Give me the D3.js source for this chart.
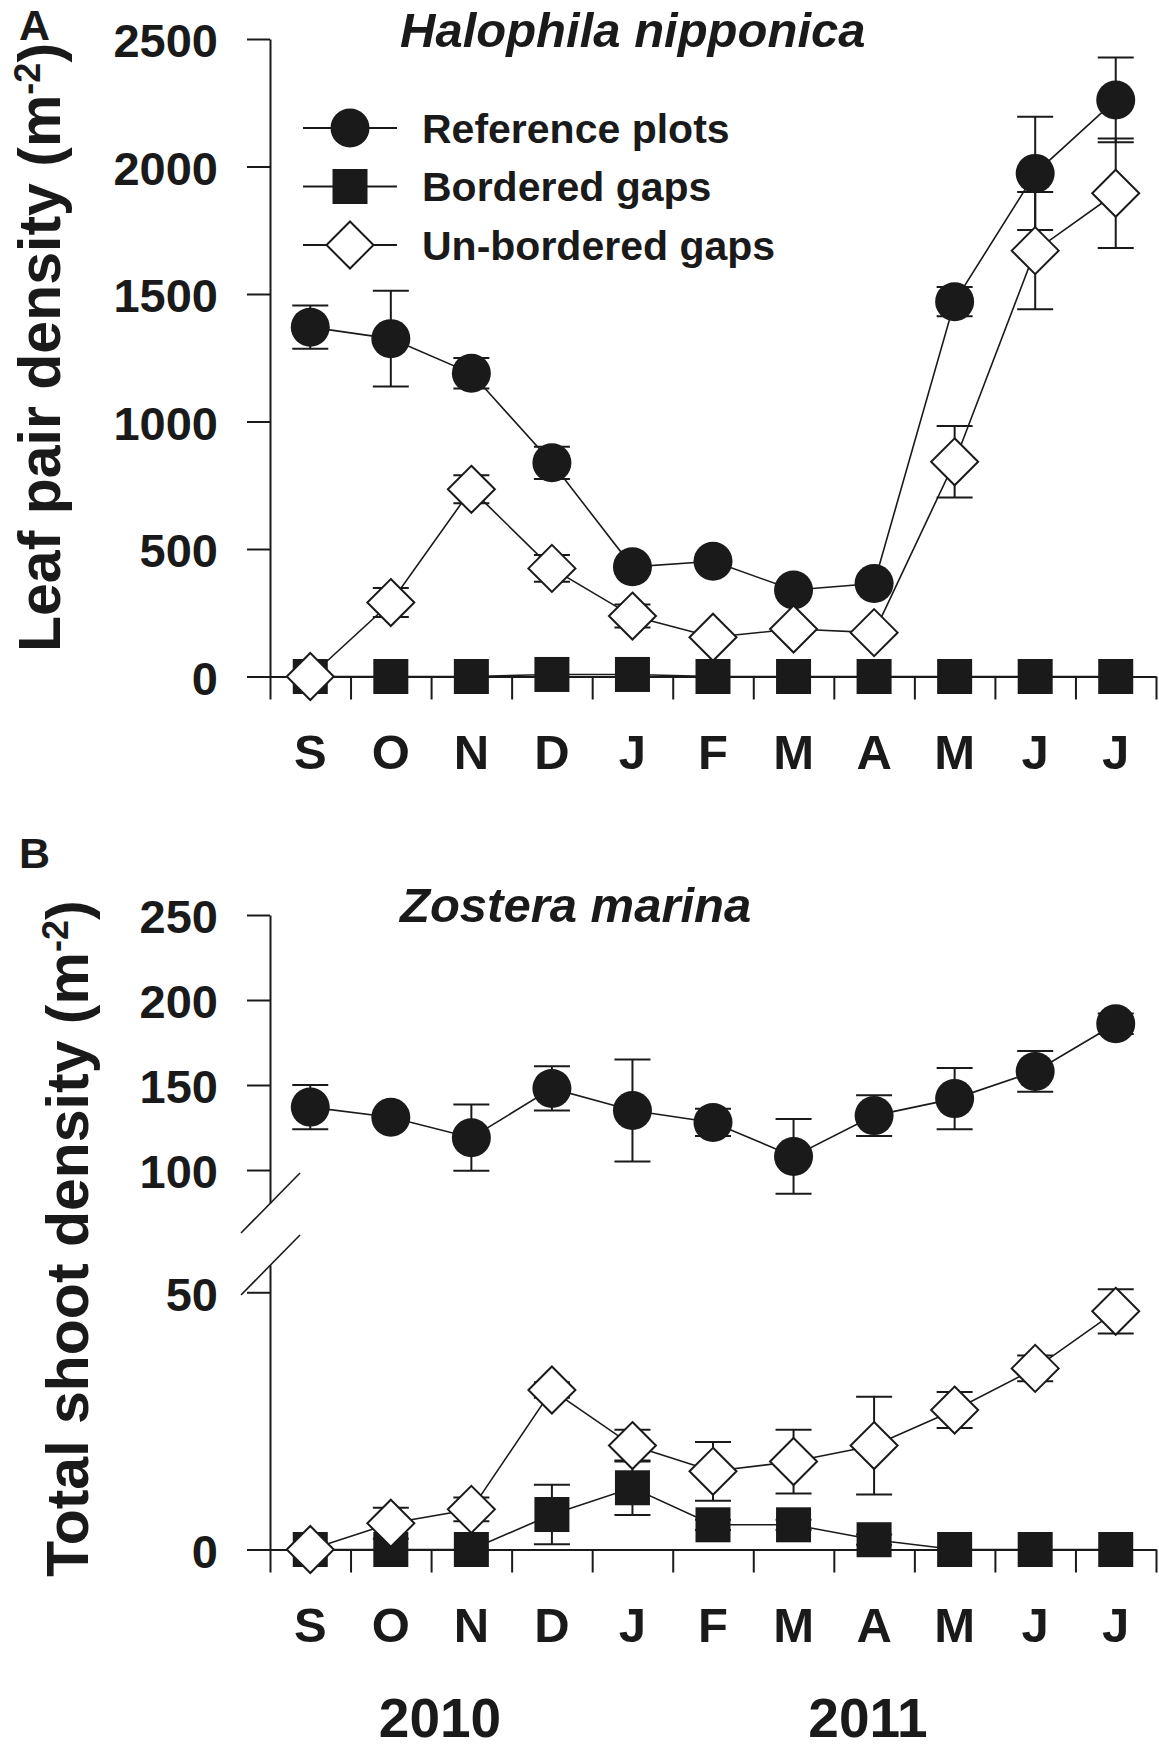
<!DOCTYPE html>
<html lang="en">
<head>
    <meta charset="UTF-8">
    <title>Seagrass density</title>
    <script src="https://cdn.jsdelivr.net/npm/d3@7"></script>
</head>
<style>
    body{
        margin:0;
        background:#fff;
    }
    svg text{
        font-family:"Liberation Sans", Arial, sans-serif;
        font-weight:bold;
        fill:#1a1a1a;
    }
</style>
<body>
<div id="chart"></div>
</body>
</html>
<script>
    // month labels, Sept 2010 - July 2011
    var months = ["S","O","N","D","J","F","M","A","M","J","J"];
    var years = [{label:"2010", x:440}, {label:"2011", x:868}];

    // A: Halophila nipponica leaf pair density
    var aRef = [1370,1325,1189,838,430,452,339,365,1470,1973,2261];
    var aRefSe = [85,188,60,63,25,20,20,20,57,222,166];
    var aBord = [0,0,0,8,8,0,0,0,0,0,0];
    var aBordSe = [0,0,0,0,0,0,0,0,0,0,0];
    var aUnb = [0,290,734,424,237,154,186,172,842,1670,1895];
    var aUnbSe = [0,57,55,52,45,20,20,20,140,230,215];
    var aTicks = [0,500,1000,1500,2000,2500];

    // B: Zostera marina total shoot density
    var bRef = [137,131,119,148,135,128,108,132,142,158,186];
    var bRefSe = [13,3,19.5,13,30,8,22,12,18,12,6];
    var bBord = [0,0,0,6.8,12,4.8,4.8,1.9,0,0,0];
    var bBordSe = [0,0,0,5.8,5.3,1,1,1,0,0,0];
    var bUnb = [0,5.1,7.8,31,20.2,15.2,17.1,20.2,27.1,35.2,46.3];
    var bUnbSe = [0,3,2.3,1.5,3.1,5.7,6.2,9.5,3.5,2.5,4.3];
    var bTicksUp = [100,150,200,250];
    var bTicksLow = [0,50];

    var legendItems = [
        {label:"Reference plots", shape:"circle"},
        {label:"Bordered gaps", shape:"square"},
        {label:"Un-bordered gaps", shape:"diamond"}
    ];

    var W = 1159, H = 1750,
        x0 = 270, x1 = 1156,
        tickLen = 23,
        ink = "#1a1a1a";

    var svg = d3.select("#chart").append("svg")
        .attr("width", W)
        .attr("height", H);

    var xb = d3.scaleLinear().domain([0, months.length]).range([x0, x1]);
    var xc = function(i){ return xb(i + 0.5); };

    var yA = d3.scaleLinear().domain([0, 2500]).range([676.5, 39]);
    var yBup = d3.scaleLinear().domain([80.6, 250]).range([1203, 915]);
    var yBlow = d3.scaleLinear().domain([0, 55.3]).range([1549.5, 1265]);

    function styleAxis(g, size){
        g.select(".domain").attr("stroke", ink).attr("stroke-width", 2);
        g.selectAll(".tick line").attr("stroke", ink).attr("stroke-width", 2);
        g.selectAll(".tick text")
            .attr("fill", ink)
            .style("font-size", size + "px")
            .attr("font-family", null);
    }

    function yAxis(scale, ticks){
        var g = svg.append("g")
            .attr("transform", "translate(" + x0 + ",0)")
            .call(d3.axisLeft(scale).tickValues(ticks).tickFormat(d3.format("d"))
                .tickSize(tickLen).tickPadding(29).tickSizeOuter(0));
        styleAxis(g, 47);
        g.selectAll(".tick text").attr("dy", "0.38em");
        return g;
    }

    function xAxis(y0){
        // boundary ticks
        var g = svg.append("g")
            .attr("transform", "translate(0," + y0 + ")")
            .call(d3.axisBottom(xb).tickValues(d3.range(months.length + 1)).tickSize(tickLen).tickFormat("").tickSizeOuter(0));
        styleAxis(g, 10);
        // month letters at the centres
        svg.append("g").selectAll("text")
            .data(months)
            .enter().append("text")
            .attr("x", function(d, i){ return xc(i); })
            .attr("y", y0 + 92)
            .attr("text-anchor", "middle")
            .style("font-size", "49px")
            .text(function(d){ return d; });
    }

    function marker(g, shape, cx, cy){
        if(shape == "circle"){
            g.append("circle").attr("cx", cx).attr("cy", cy).attr("r", 19.5)
                .attr("fill", ink);
        } else if(shape == "square"){
            g.append("rect").attr("x", cx - 17.5).attr("y", cy - 17.5)
                .attr("width", 35).attr("height", 35)
                .attr("fill", ink);
        } else {
            var s = 23.5;
            g.append("path")
                .attr("d", "M" + cx + "," + (cy - s) + "L" + (cx + s) + "," + cy +
                    "L" + cx + "," + (cy + s) + "L" + (cx - s) + "," + cy + "Z")
                .attr("fill", "#fff")
                .attr("stroke", ink)
                .attr("stroke-width", 2);
        }
    }

    function series(layers, vals, se, scale, shape){
        var line = d3.line()
            .x(function(d, i){ return xc(i); })
            .y(function(d){ return scale(d); });
        layers.lines.append("path")
            .datum(vals)
            .attr("d", line)
            .attr("fill", "none")
            .attr("stroke", ink)
            .attr("stroke-width", 1.6);

        vals.forEach(function(v, i){
            if(se[i] > 0){
                var cx = xc(i), top = scale(v + se[i]), bot = scale(v - se[i]);
                layers.err.append("line").attr("x1", cx).attr("x2", cx).attr("y1", top).attr("y2", bot);
                layers.err.append("line").attr("x1", cx - 18).attr("x2", cx + 18).attr("y1", top).attr("y2", top);
                layers.err.append("line").attr("x1", cx - 18).attr("x2", cx + 18).attr("y1", bot).attr("y2", bot);
            }
        });
        layers.err.selectAll("line").attr("stroke", ink).attr("stroke-width", 2);

        var mg = layers[shape];
        vals.forEach(function(v, i){ marker(mg, shape, xc(i), scale(v)); });
    }

    function makeLayers(){
        return {
            lines: svg.append("g"),
            err: svg.append("g"),
            circle: svg.append("g"),
            square: svg.append("g"),
            diamond: svg.append("g")
        };
    }

    function yTitle(x, y, main){
        var t = svg.append("text")
            .attr("transform", "translate(" + x + "," + y + ") rotate(-90)")
            .style("font-size", "59px");
        t.append("tspan").text(main + " (m");
        t.append("tspan").attr("baseline-shift", "super").style("font-size", "36px").text("-2");
        t.append("tspan").text(")");
    }

    // ---------- panel A ----------
    yAxis(yA, aTicks);
    xAxis(yA(0));
    var la = makeLayers();
    series(la, aRef, aRefSe, yA, "circle");
    series(la, aBord, aBordSe, yA, "square");
    series(la, aUnb, aUnbSe, yA, "diamond");

    svg.append("text").attr("x", 19).attr("y", 40).style("font-size", "43px").text("A");
    svg.append("text").attr("x", 400).attr("y", 46.7)
        .style("font-size", "49px").style("font-style", "italic")
        .text("Halophila nipponica");
    yTitle(60, 652, "Leaf pair density");

    // legend
    var leg = svg.append("g");
    legendItems.forEach(function(d, i){
        var ly = 128 + i * 58.5;
        leg.append("line").attr("x1", 303).attr("x2", 397).attr("y1", ly).attr("y2", ly)
            .attr("stroke", ink).attr("stroke-width", 2);
        marker(leg, d.shape, 350, ly);
        leg.append("text").attr("x", 422).attr("y", ly + 14.5)
            .style("font-size", "41px").text(d.label);
    });

    // ---------- panel B ----------
    yAxis(yBup, bTicksUp);
    yAxis(yBlow, bTicksLow);
    xAxis(yBlow(0));
    var lb = makeLayers();
    series(lb, bRef, bRefSe, yBup, "circle");
    series(lb, bBord, bBordSe, yBlow, "square");
    series(lb, bUnb, bUnbSe, yBlow, "diamond");

    // axis break marks
    [yBup.range()[0], yBlow.range()[1]].forEach(function(by){
        svg.append("line")
            .attr("x1", x0 - 29).attr("y1", by + 30)
            .attr("x2", x0 + 30).attr("y2", by - 30)
            .attr("stroke", ink).attr("stroke-width", 1.6);
    });

    svg.append("text").attr("x", 19).attr("y", 868).style("font-size", "43px").text("B");
    svg.append("text").attr("x", 400).attr("y", 921.5)
        .style("font-size", "49px").style("font-style", "italic")
        .text("Zostera marina");
    yTitle(88, 1577, "Total shoot density");

    svg.append("g").selectAll("text")
        .data(years)
        .enter().append("text")
        .attr("x", function(d){ return d.x; })
        .attr("y", 1737)
        .attr("text-anchor", "middle")
        .style("font-size", "55px")
        .text(function(d){ return d.label; });
</script>
